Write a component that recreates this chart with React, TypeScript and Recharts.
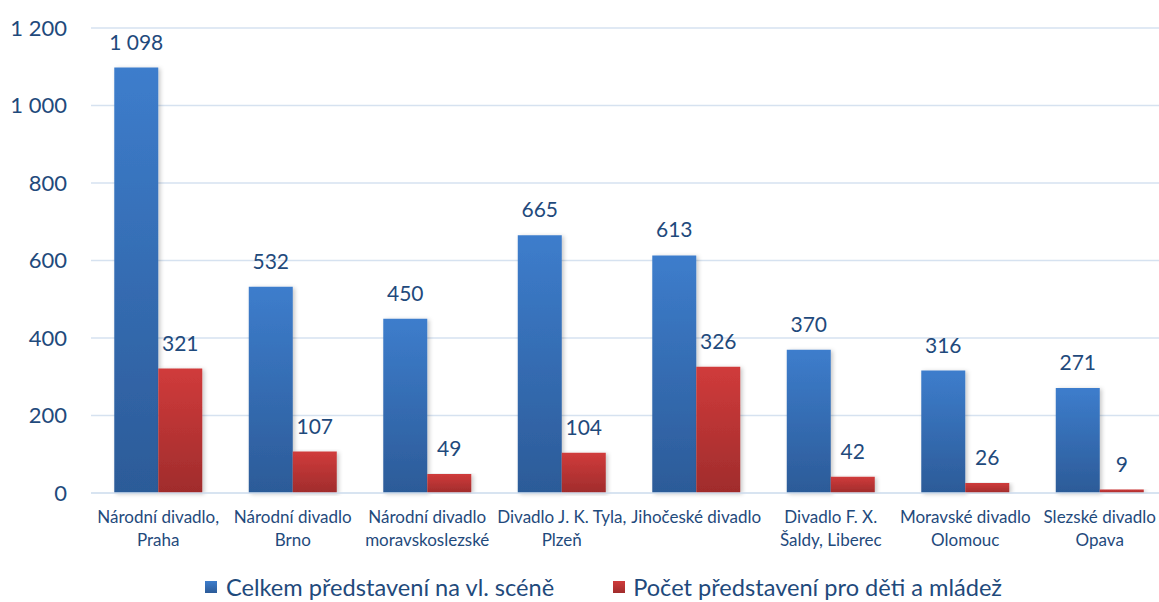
import React from "react";
import { BarChart, Bar, XAxis, YAxis, CartesianGrid, LabelList, Legend } from "recharts";

const categories = [
  "Národní divadlo, Praha",
  "Národní divadlo Brno",
  "Národní divadlo moravskoslezské",
  "Divadlo J. K. Tyla, Plzeň",
  "Jihočeské divadlo",
  "Divadlo F. X. Šaldy, Liberec",
  "Moravské divadlo Olomouc",
  "Slezské divadlo Opava",
];
const categoryLines: string[][] = [
  ["Národní divadlo,", "Praha"],
  ["Národní divadlo", "Brno"],
  ["Národní divadlo", "moravskoslezské"],
  ["Divadlo J. K. Tyla,", "Plzeň"],
  ["Jihočeské divadlo"],
  ["Divadlo F. X.", "Šaldy, Liberec"],
  ["Moravské divadlo", "Olomouc"],
  ["Slezské divadlo", "Opava"],
];
const celkem = [1098, 532, 450, 665, 613, 370, 316, 271];
const deti = [321, 107, 49, 104, 326, 42, 26, 9];
const yTicks = [0, 200, 400, 600, 800, 1000, 1200];
const seriesNames = ["Celkem představení na vl. scéně", "Počet představení pro děti a mládež"];

const data = categories.map((c, i) => ({ name: c, celkem: celkem[i], deti: deti[i], idx: i }));

const FONT = "Lato, 'Open Sans', sans-serif";
const TEXT = "#1F4A7C";

const fmt = (v: number) => {
  const s = String(v);
  return s.replace(/\B(?=(\d{3})+(?!\d))/g, " ");
};

const XTick = (props: any) => {
  const { x, y, payload } = props;
  const lines = categoryLines[payload.index] || [payload.value];
  return (
    <g>
      {lines.map((l, i) => (
        <text key={i} x={x} y={y + 22 + i * 23} textAnchor="middle" fill={TEXT} fontSize={17} fontFamily={FONT}>
          {l}
        </text>
      ))}
    </g>
  );
};

const LegendContent = () => (
  <div style={{ height: 30, paddingLeft: 205, boxSizing: "border-box", display: "flex", alignItems: "center", fontFamily: FONT, fontSize: 23.6, color: TEXT, lineHeight: "28px", whiteSpace: "nowrap" }}>
    <span style={{ display: "inline-block", width: 12, height: 12, background: "linear-gradient(#3D7DCC,#2C5B98)", marginRight: 9 }} />
    <span>{seriesNames[0]}</span>
    <span style={{ display: "inline-block", width: 12, height: 12, background: "linear-gradient(#D03B3B,#A02C2C)", marginLeft: 59, marginRight: 8 }} />
    <span>{seriesNames[1]}</span>
  </div>
);

export default function App() {
  return (
    <div style={{ width: 1159, height: 602, overflow: "hidden", position: "relative", background: "#fff" }}>
      <style>{"html,body{margin:0;padding:0;overflow:hidden;}"}</style>
      <BarChart
        width={1167}
        height={602}
        data={data}
        margin={{ top: 28, right: 0, bottom: 0, left: 0 }}
        barCategoryGap="17.3%"
        barGap={0}
      >
        <defs>
          <linearGradient id="gBlue" x1="0" y1="0" x2="0" y2="1">
            <stop offset="0%" stopColor="#3D7DCC" />
            <stop offset="100%" stopColor="#2C5B98" />
          </linearGradient>
          <linearGradient id="gRed" x1="0" y1="0" x2="0" y2="1">
            <stop offset="0%" stopColor="#D03B3B" />
            <stop offset="100%" stopColor="#A02C2C" />
          </linearGradient>
          <filter id="barShadow" x="-20%" y="-5%" width="140%" height="110%">
            <feDropShadow dx="2" dy="1" stdDeviation="2" floodColor="#000" floodOpacity="0.22" />
          </filter>
        </defs>
        <CartesianGrid vertical={false} stroke="#D6E2F0" strokeWidth={1.5} />
        <XAxis
          dataKey="name"
          tickLine={false}
          axisLine={{ stroke: "#D6E2F0", strokeWidth: 1.5 }}
          height={79}
          interval={0}
          tick={<XTick />}
        />
        <YAxis
          width={91}
          domain={[0, 1200]}
          ticks={yTicks}
          tickLine={false}
          axisLine={false}
          tickMargin={18}
          tickFormatter={fmt}
          tick={{ fill: TEXT, fontSize: 22, fontFamily: FONT }}
        />
        <Legend verticalAlign="bottom" content={<LegendContent />} wrapperStyle={{ left: 0, width: 1167 }} />
        <Bar dataKey="celkem" name={seriesNames[0]} fill="url(#gBlue)" filter="url(#barShadow)" isAnimationActive={false}>
          <LabelList dataKey="celkem" position="top" offset={18} formatter={(v: any) => fmt(v)} fill={TEXT} fontSize={21} fontFamily={FONT} />
        </Bar>
        <Bar dataKey="deti" name={seriesNames[1]} fill="url(#gRed)" filter="url(#barShadow)" isAnimationActive={false}>
          <LabelList dataKey="deti" position="top" offset={18} formatter={(v: any) => fmt(v)} fill={TEXT} fontSize={21} fontFamily={FONT} />
        </Bar>
      </BarChart>
    </div>
  );
}
